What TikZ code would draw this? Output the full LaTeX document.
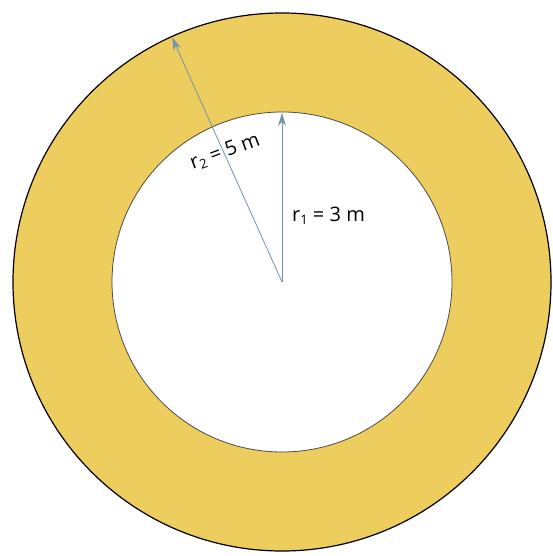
\documentclass[tikz,border=0pt]{standalone}
\usepackage{fontspec}
\setmainfont{Open Sans}
\usetikzlibrary{arrows.meta,calc}
\definecolor{ringfill}{RGB}{238,205,95}
\definecolor{arrowblue}{RGB}{112,150,172}
\tikzset{
  radius arrow/.style={draw=arrowblue, line width=0.8pt, -{Stealth[length=13pt,width=8pt]}},
  lbl/.style={font=\fontsize{20}{24}\selectfont, inner sep=0pt}
}
\newcommand{\lowsub}[1]{\raisebox{-0.3ex}{\fontsize{13}{15}\selectfont #1}}
\begin{document}
\begin{tikzpicture}[x=1pt,y=1pt]
\useasboundingbox (0,0) rectangle (552,556);
\fill[white] (0,0) rectangle (552,556);
\coordinate (O) at (282,274);
\fill[ringfill, even odd rule] (O) circle[radius=269] (O) circle[radius=170];
\draw[black, line width=1.2pt] (O) circle[radius=269];
\draw[black!70, line width=0.8pt] (O) circle[radius=170];
\coordinate (A) at ($(O)+(114.2:268)$);
\coordinate (B) at ($(O)+(90:169)$);
\draw[radius arrow] (O) -- (A);
\draw[radius arrow] (O) -- (B);
\node[lbl, anchor=west] (l1) at (292,340) {r\lowsub{1} = 3 m};
\node[lbl, rotate=20] (l2) at (225,404) {r\lowsub{2} = 5 m};
\end{tikzpicture}
\end{document}
